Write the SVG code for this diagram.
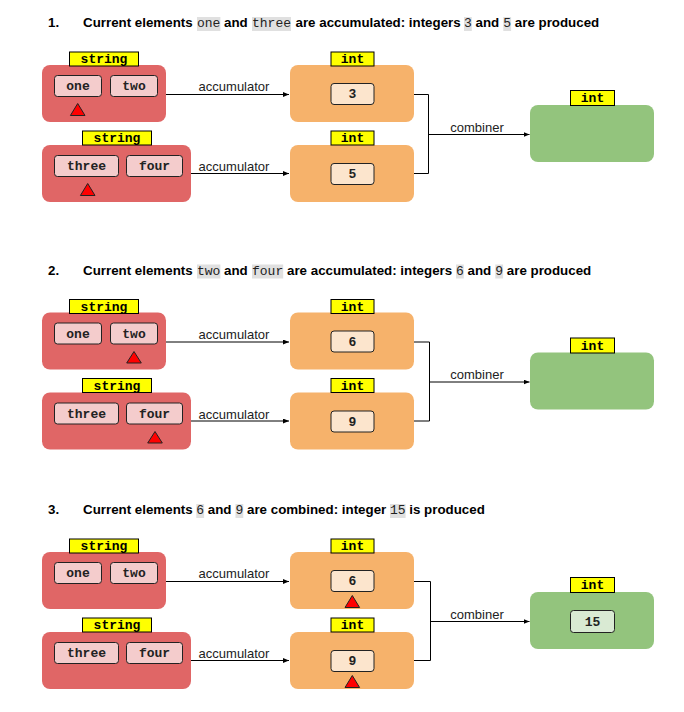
<svg xmlns="http://www.w3.org/2000/svg" width="684" height="712" viewBox="0 0 684 712">
<style>
.bg{fill:#ffffff}
.title{font-family:"Liberation Sans",Arial,sans-serif;font-weight:bold;font-size:13.33px;fill:#000}
.code{font-family:"Liberation Mono","Courier New",monospace;font-weight:normal;font-size:13px;fill:#222}
.hl{fill:#e0e0e0}
.lbl{fill:#ffff00;stroke:#000;stroke-width:1}
.lbltxt{font-family:"Liberation Mono","Courier New",monospace;font-weight:bold;font-size:13px;text-anchor:middle;fill:#000}
.red{fill:#e06666}
.org{fill:#f6b26b}
.grn{fill:#93c47d}
.ired{fill:#f4cccc;stroke:#222;stroke-width:1}
.iorg{fill:#fce5cd;stroke:#222;stroke-width:1}
.igrn{fill:#d9ead3;stroke:#222;stroke-width:1}
.val{font-family:"Liberation Mono","Courier New",monospace;font-weight:bold;font-size:13px;text-anchor:middle;fill:#222}
.tri{fill:#ff0000;stroke:#222;stroke-width:1}
.edge{fill:none;stroke:#000;stroke-width:1}
.elbl{font-family:"Liberation Sans",Arial,sans-serif;font-size:13px;text-anchor:middle;fill:#222}
</style>
<defs>
<marker id="ah" markerUnits="userSpaceOnUse" markerWidth="7" markerHeight="6" refX="6" refY="2.5" orient="auto">
<path d="M0,0 L6,2.5 L0,5 z" fill="#000"/>
</marker>
<g id="strnode1">
<rect class="red" x="42" y="65" width="124" height="57" rx="8"/>
<rect class="lbl" x="69.5" y="52" width="69" height="14"/>
<text class="lbltxt" x="104" y="63">string</text>
<rect class="ired" x="54.5" y="75.5" width="47" height="21" rx="3"/>
<text class="val" x="78" y="90">one</text>
<rect class="ired" x="110.5" y="75.5" width="47" height="21" rx="3"/>
<text class="val" x="134" y="90">two</text>
</g>
<g id="strnode2">
<rect class="red" x="42" y="145" width="149" height="57" rx="8"/>
<rect class="lbl" x="82.5" y="131" width="69" height="14"/>
<text class="lbltxt" x="117" y="142">string</text>
<rect class="ired" x="54.5" y="155.5" width="64" height="21" rx="3"/>
<text class="val" x="86.5" y="170">three</text>
<rect class="ired" x="126.5" y="155.5" width="56" height="21" rx="3"/>
<text class="val" x="154.5" y="170">four</text>
</g>
</defs>
<rect class="bg" x="0" y="0" width="684" height="712"/>

<!-- Section 1 -->
<g id="section1">
<g id="title1">
<rect class="hl" x="197" y="17" width="23.4" height="14"/>
<rect class="hl" x="252" y="17" width="39" height="14"/>
<rect class="hl" x="464" y="17" width="7.8" height="14"/>
<rect class="hl" x="503.3" y="17" width="7.8" height="14"/>
<text class="title" y="27"><tspan x="48">1.</tspan><tspan x="83">Current elements</tspan><tspan class="code" x="197">one</tspan><tspan x="224">and</tspan><tspan class="code" x="252">three</tspan><tspan x="295.5">are accumulated: integers</tspan><tspan class="code" x="464">3</tspan><tspan x="475.5">and</tspan><tspan class="code" x="503.3">5</tspan><tspan x="514.8">are produced</tspan></text>
</g>
<g id="s1-str1"><use href="#strnode1"/><polygon class="tri" points="77.7,103.5 85,115.5 70.4,115.5"/></g>
<g id="s1-str2"><use href="#strnode2"/><polygon class="tri" points="87.7,183.5 95,195.5 80.4,195.5"/></g>
<g id="s1-int1">
<rect class="org" x="290" y="65" width="124" height="57" rx="8"/>
<rect class="lbl" x="331" y="52" width="43" height="14"/>
<text class="lbltxt" x="352.5" y="63">int</text>
<rect class="iorg" x="331" y="83.5" width="43" height="21" rx="3"/>
<text class="val" x="352.5" y="98">3</text>
</g>
<g id="s1-int2">
<rect class="org" x="290" y="145" width="124" height="57" rx="8"/>
<rect class="lbl" x="331" y="131" width="43" height="14"/>
<text class="lbltxt" x="352.5" y="142">int</text>
<rect class="iorg" x="331" y="163.5" width="43" height="21" rx="3"/>
<text class="val" x="352.5" y="178">5</text>
</g>
<g id="s1-res">
<rect class="grn" x="530" y="105" width="124" height="57" rx="8"/>
<rect class="lbl" x="570.5" y="90.5" width="44" height="15"/>
<text class="lbltxt" x="592.5" y="102">int</text>
</g>
<g id="s1-edges">
<path class="edge" d="M166,94.5 H289" marker-end="url(#ah)"/>
<path class="edge" d="M191,173.5 H289" marker-end="url(#ah)"/>
<path class="edge" d="M414,94.5 H428.5 V173.5 H414"/>
<path class="edge" d="M428.5,134.5 H529.5" marker-end="url(#ah)"/>
<text class="elbl" x="234" y="91">accumulator</text>
<text class="elbl" x="234" y="171">accumulator</text>
<text class="elbl" x="477" y="131.5">combiner</text>
</g>
</g>

<!-- Section 2 -->
<g id="section2" transform="translate(0,247.5)">
<g id="title2">
<rect class="hl" x="197" y="17" width="23.4" height="14"/>
<rect class="hl" x="252" y="17" width="31.2" height="14"/>
<rect class="hl" x="456" y="17" width="7.8" height="14"/>
<rect class="hl" x="495.3" y="17" width="7.8" height="14"/>
<text class="title" y="27"><tspan x="48">2.</tspan><tspan x="83">Current elements</tspan><tspan class="code" x="197">two</tspan><tspan x="224">and</tspan><tspan class="code" x="252">four</tspan><tspan x="287">are accumulated: integers</tspan><tspan class="code" x="456">6</tspan><tspan x="467.5">and</tspan><tspan class="code" x="495.3">9</tspan><tspan x="506.8">are produced</tspan></text>
</g>
<g id="s2-str1"><use href="#strnode1"/><polygon class="tri" points="134,104 141.3,115.5 126.7,115.5"/></g>
<g id="s2-str2"><use href="#strnode2"/><polygon class="tri" points="155,184 162.3,195.5 147.7,195.5"/></g>
<g id="s2-int1">
<rect class="org" x="290" y="65" width="124" height="57" rx="8"/>
<rect class="lbl" x="331" y="52" width="43" height="14"/>
<text class="lbltxt" x="352.5" y="63">int</text>
<rect class="iorg" x="331" y="83.5" width="43" height="21" rx="3"/>
<text class="val" x="352.5" y="98">6</text>
</g>
<g id="s2-int2">
<rect class="org" x="290" y="145" width="124" height="57" rx="8"/>
<rect class="lbl" x="331" y="131" width="43" height="14"/>
<text class="lbltxt" x="352.5" y="142">int</text>
<rect class="iorg" x="331" y="163.5" width="43" height="21" rx="3"/>
<text class="val" x="352.5" y="178">9</text>
</g>
<g id="s2-res">
<rect class="grn" x="530" y="105" width="124" height="57" rx="8"/>
<rect class="lbl" x="570.5" y="90.5" width="44" height="15"/>
<text class="lbltxt" x="592.5" y="102">int</text>
</g>
<g id="s2-edges">
<path class="edge" d="M166,94.5 H289" marker-end="url(#ah)"/>
<path class="edge" d="M191,173.5 H289" marker-end="url(#ah)"/>
<path class="edge" d="M414,94.5 H429.5 V173.5 H414"/>
<path class="edge" d="M429.5,134.5 H529.5" marker-end="url(#ah)"/>
<text class="elbl" x="234" y="91">accumulator</text>
<text class="elbl" x="234" y="171">accumulator</text>
<text class="elbl" x="477" y="131.5">combiner</text>
</g>
</g>

<!-- Section 3 -->
<g id="section3" transform="translate(0,487)">
<g id="title3">
<rect class="hl" x="196.3" y="17" width="7.8" height="14"/>
<rect class="hl" x="235.5" y="17" width="7.8" height="14"/>
<rect class="hl" x="390" y="17" width="15.6" height="14"/>
<text class="title" y="27"><tspan x="48">3.</tspan><tspan x="83">Current elements</tspan><tspan class="code" x="196.3">6</tspan><tspan x="207.8">and</tspan><tspan class="code" x="235.5">9</tspan><tspan x="247">are combined: integer</tspan><tspan class="code" x="390">15</tspan><tspan x="409.3">is produced</tspan></text>
</g>
<g id="s3-str1"><use href="#strnode1"/></g>
<g id="s3-str2"><use href="#strnode2"/></g>
<g id="s3-int1">
<rect class="org" x="290" y="65" width="124" height="57" rx="8"/>
<rect class="lbl" x="331" y="52" width="43" height="14"/>
<text class="lbltxt" x="352.5" y="63">int</text>
<rect class="iorg" x="331" y="83.5" width="43" height="21" rx="3"/>
<text class="val" x="352.5" y="98">6</text>
<polygon class="tri" points="352.3,108.5 359.6,120.5 345,120.5"/>
</g>
<g id="s3-int2">
<rect class="org" x="290" y="145" width="124" height="57" rx="8"/>
<rect class="lbl" x="331" y="131" width="43" height="14"/>
<text class="lbltxt" x="352.5" y="142">int</text>
<rect class="iorg" x="331" y="163.5" width="43" height="21" rx="3"/>
<text class="val" x="352.5" y="178">9</text>
<polygon class="tri" points="352.3,188.5 359.6,200.5 345,200.5"/>
</g>
<g id="s3-res">
<rect class="grn" x="530" y="105" width="124" height="57" rx="8"/>
<rect class="lbl" x="570.5" y="90.5" width="44" height="15"/>
<text class="lbltxt" x="592.5" y="102">int</text>
<rect class="igrn" x="570.5" y="123.5" width="44" height="22" rx="3"/>
<text class="val" x="592.5" y="138.5">15</text>
</g>
<g id="s3-edges">
<path class="edge" d="M166,94.5 H289" marker-end="url(#ah)"/>
<path class="edge" d="M191,173.5 H289" marker-end="url(#ah)"/>
<path class="edge" d="M414,94.5 H430.5 V173.5 H414"/>
<path class="edge" d="M430.5,134.5 H529.5" marker-end="url(#ah)"/>
<text class="elbl" x="234" y="91">accumulator</text>
<text class="elbl" x="234" y="171">accumulator</text>
<text class="elbl" x="477" y="131.5">combiner</text>
</g>
</g>
</svg>
